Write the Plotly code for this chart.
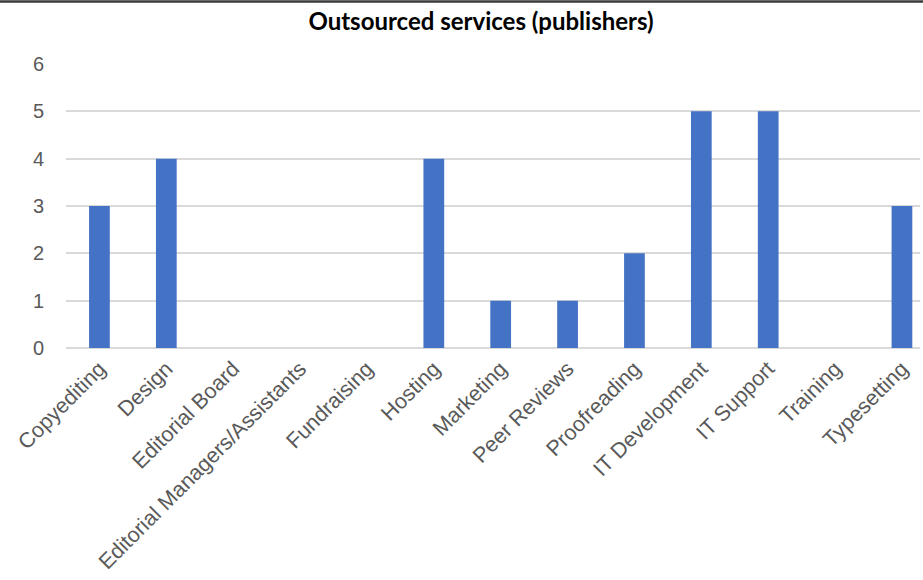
import plotly.graph_objects as go

categories = ["Copyediting", "Design", "Editorial Board", "Editorial Managers/Assistants",
              "Fundraising", "Hosting", "Marketing", "Peer Reviews", "Proofreading",
              "IT Development", "IT Support", "Training", "Typesetting"]
values = [3, 4, 0, 0, 0, 4, 1, 1, 2, 5, 5, 0, 3]
y_ticks = [0, 1, 2, 3, 4, 5, 6]

W, H = 923, 580
L, R, T, B = 66, 3, 64, 232
pw = W - L - R
ph = H - T - B

fig = go.Figure(go.Bar(
    x=categories, y=values,
    marker=dict(color="#4472C4", line=dict(width=0)),
    hoverinfo="skip",
))

fig.update_layout(
    width=W, height=H,
    margin=dict(l=L, r=R, t=T, b=B, autoexpand=False),
    paper_bgcolor="white", plot_bgcolor="white",
    bargap=0.69,
    showlegend=False,
    title=dict(text="<b>Outsourced services (publishers)</b>",
               x=481 / W, xanchor="center", y=1 - 22 / H, yanchor="middle",
               font=dict(family="Lato, Open Sans, sans-serif", size=24, color="#000000")),
    font=dict(family="Arial, Liberation Sans, sans-serif", size=20, color="#595959"),
)
fig.update_xaxes(
    type="category", range=[-0.5, 12.27], tickangle=-45,
    showgrid=False, showline=False, ticks="", zeroline=False, ticklabelstandoff=3,
    tickfont=dict(family="Arial, Liberation Sans, sans-serif", size=21.5, color="#595959"),
)
fig.update_yaxes(
    range=[0, 6], tickvals=y_ticks, showgrid=True, gridcolor="#d9d9d9", gridwidth=1.5,
    zeroline=True, zerolinecolor="#d9d9d9", zerolinewidth=1.5,
    showline=False, ticks="", ticklabelstandoff=21,
    tickfont=dict(family="Arial, Liberation Sans, sans-serif", size=20, color="#595959"),
)
# top border line of the chart frame
fig.add_shape(type="line", xref="paper", yref="paper",
              x0=-L / pw, x1=(W - L) / pw, y0=(ph + T - 1.5) / ph, y1=(ph + T - 1.5) / ph,
              line=dict(color="#3a3a3a", width=2.5))

fig.write_html("out.html", config={"displayModeBar": False},
               post_script="document.body.style.margin='0';")
